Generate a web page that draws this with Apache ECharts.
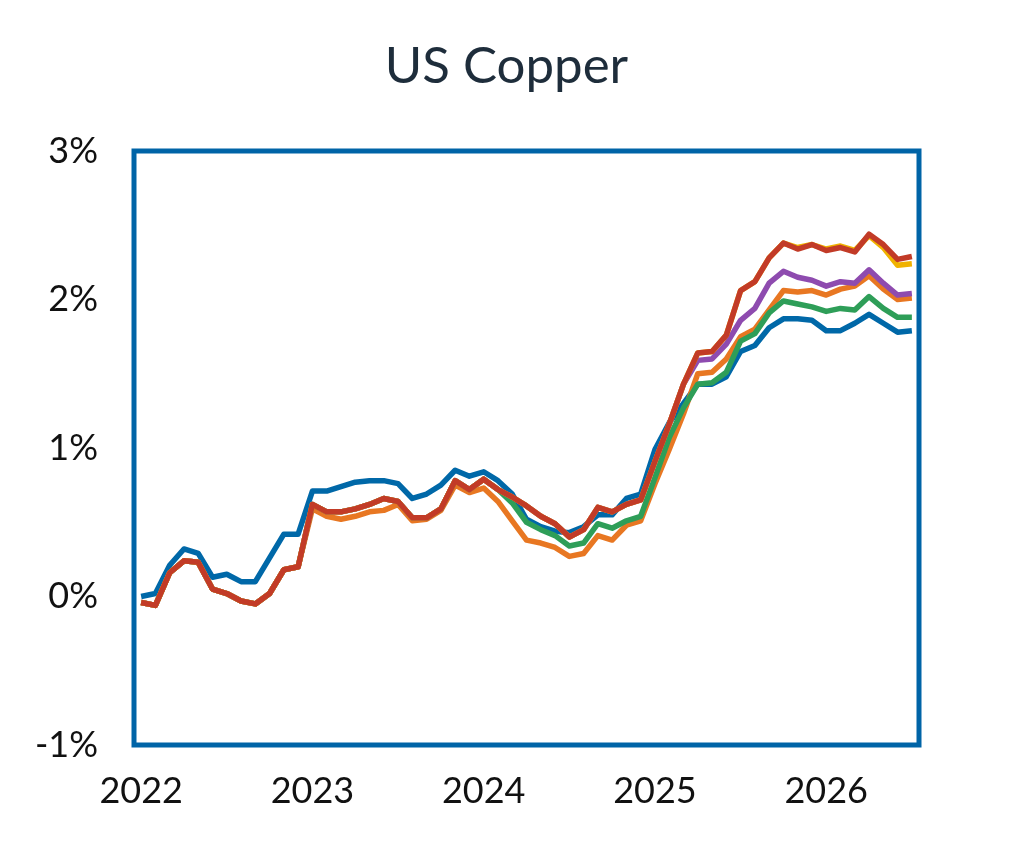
<!DOCTYPE html>
<html>
<head>
<meta charset="utf-8">
<script src="https://cdn.jsdelivr.net/npm/echarts@6/dist/echarts.min.js"></script>
<style>
  html, body { margin: 0; padding: 0; background: #fff; }
  #chart { width: 1013px; height: 844px; }
</style>
</head>
<body>
<div id="chart"></div>
<script>
// months Jan 2022 .. Jul 2026
const months = [];
for (let y = 2022; y <= 2026; y++) {
  for (let m = 1; m <= 12; m++) {
    if (y === 2026 && m > 7) break;
    months.push(y + "-" + (m < 10 ? "0" + m : m));
  }
}

const yTicks = [-1, 0, 1, 2, 3];

// values in percent
const blueLine = [0.00, 0.02, 0.21, 0.32, 0.29, 0.13, 0.15, 0.10, 0.10, 0.26, 0.42, 0.42,
  0.71, 0.71, 0.74, 0.77, 0.78, 0.78, 0.76, 0.66, 0.69, 0.75, 0.85, 0.81,
  0.84, 0.78, 0.69, 0.52, 0.47, 0.44, 0.43, 0.47, 0.55, 0.55, 0.66, 0.69,
  0.99, 1.17, 1.30, 1.43, 1.43, 1.48, 1.65, 1.69, 1.81, 1.87, 1.87, 1.86,
  1.79, 1.79, 1.84, 1.90, 1.84, 1.78, 1.79];

const orangeLine = [-0.04, -0.06, 0.16, 0.24, 0.23, 0.05, 0.02, -0.03, -0.05, 0.02, 0.18, 0.20,
  0.59, 0.54, 0.52, 0.54, 0.57, 0.58, 0.62, 0.51, 0.52, 0.58, 0.75, 0.70,
  0.73, 0.64, 0.51, 0.38, 0.36, 0.33, 0.27, 0.29, 0.41, 0.38, 0.48, 0.51,
  0.76, 0.99, 1.23, 1.50, 1.51, 1.60, 1.75, 1.80, 1.93, 2.06, 2.05, 2.06,
  2.03, 2.07, 2.09, 2.16, 2.07, 2.00, 2.01];

const greenLine = [-0.04, -0.06, 0.16, 0.24, 0.23, 0.05, 0.02, -0.03, -0.05, 0.02, 0.18, 0.20,
  0.62, 0.57, 0.57, 0.59, 0.62, 0.66, 0.64, 0.53, 0.53, 0.59, 0.78, 0.72,
  0.79, 0.72, 0.63, 0.50, 0.45, 0.41, 0.34, 0.36, 0.49, 0.46, 0.51, 0.54,
  0.80, 1.07, 1.27, 1.43, 1.44, 1.51, 1.72, 1.77, 1.91, 1.99, 1.97, 1.95,
  1.92, 1.94, 1.93, 2.02, 1.94, 1.88, 1.88];

const purpleLine = [-0.04, -0.06, 0.16, 0.24, 0.23, 0.05, 0.02, -0.03, -0.05, 0.02, 0.18, 0.20,
  0.62, 0.57, 0.57, 0.59, 0.62, 0.66, 0.64, 0.53, 0.53, 0.59, 0.78, 0.72,
  0.79, 0.72, 0.67, 0.61, 0.54, 0.49, 0.40, 0.45, 0.60, 0.57, 0.62, 0.65,
  0.91, 1.16, 1.43, 1.59, 1.60, 1.70, 1.86, 1.94, 2.11, 2.19, 2.15, 2.13,
  2.09, 2.12, 2.11, 2.20, 2.11, 2.03, 2.04];

const goldLine = [-0.04, -0.06, 0.16, 0.24, 0.23, 0.05, 0.02, -0.03, -0.05, 0.02, 0.18, 0.20,
  0.62, 0.57, 0.57, 0.59, 0.62, 0.66, 0.64, 0.53, 0.53, 0.59, 0.78, 0.72,
  0.79, 0.72, 0.67, 0.61, 0.54, 0.49, 0.40, 0.45, 0.60, 0.57, 0.62, 0.65,
  0.91, 1.16, 1.43, 1.64, 1.65, 1.76, 2.06, 2.12, 2.28, 2.38, 2.35, 2.37,
  2.34, 2.36, 2.33, 2.43, 2.35, 2.23, 2.24];

const redLine = [-0.04, -0.06, 0.16, 0.24, 0.23, 0.05, 0.02, -0.03, -0.05, 0.02, 0.18, 0.20,
  0.62, 0.57, 0.57, 0.59, 0.62, 0.66, 0.64, 0.53, 0.53, 0.59, 0.78, 0.72,
  0.79, 0.72, 0.67, 0.61, 0.54, 0.49, 0.40, 0.45, 0.60, 0.57, 0.62, 0.65,
  0.91, 1.16, 1.43, 1.64, 1.65, 1.76, 2.06, 2.12, 2.28, 2.38, 2.34, 2.37,
  2.33, 2.35, 2.32, 2.44, 2.37, 2.27, 2.29];

const seriesList = [
  { name: "blue", data: blueLine, color: "#0068A8" },
  { name: "orange", data: orangeLine, color: "#E87722" },
  { name: "green", data: greenLine, color: "#2E9E58" },
  { name: "purple", data: purpleLine, color: "#8E4BAF" },
  { name: "gold", data: goldLine, color: "#F0B200" },
  { name: "red", data: redLine, color: "#C23B27" },
];

const fontFamily = "Lato, 'Noto Sans', sans-serif";

const chart = echarts.init(document.getElementById("chart"), null, { renderer: "canvas" });

chart.setOption({
  animation: false,
  backgroundColor: "#fff",
  title: {
    text: "US Copper",
    left: "center",
    top: 36,
    textStyle: { fontFamily: fontFamily, fontSize: 51, fontWeight: "normal", color: "#1E2D3B" },
  },
  grid: {
    left: 134,
    right: 94,
    top: 151,
    bottom: 99,
    show: true,
    borderColor: "#0064A7",
    borderWidth: 5,
    containLabel: false,
  },
  xAxis: {
    type: "category",
    data: months,
    boundaryGap: true,
    axisLine: { show: false },
    axisTick: { show: false },
    axisLabel: {
      interval: 11,
      margin: 28,
      fontFamily: fontFamily,
      fontSize: 36,
      color: "#111",
      formatter: (v) => v.slice(0, 4),
    },
    splitLine: { show: false },
  },
  yAxis: {
    type: "value",
    min: yTicks[0],
    max: yTicks[yTicks.length - 1],
    interval: 1,
    axisLine: { show: false },
    axisTick: { show: false },
    splitLine: { show: false },
    axisLabel: {
      margin: 36,
      fontFamily: fontFamily,
      fontSize: 36,
      color: "#111",
      formatter: (v) => v + "%",
    },
  },
  series: seriesList.map((s) => ({
    type: "line",
    name: s.name,
    data: s.data,
    symbol: "none",
    lineStyle: { color: s.color, width: 5.5, join: "round" },
    itemStyle: { color: s.color },
  })),
});
</script>
</body>
</html>
